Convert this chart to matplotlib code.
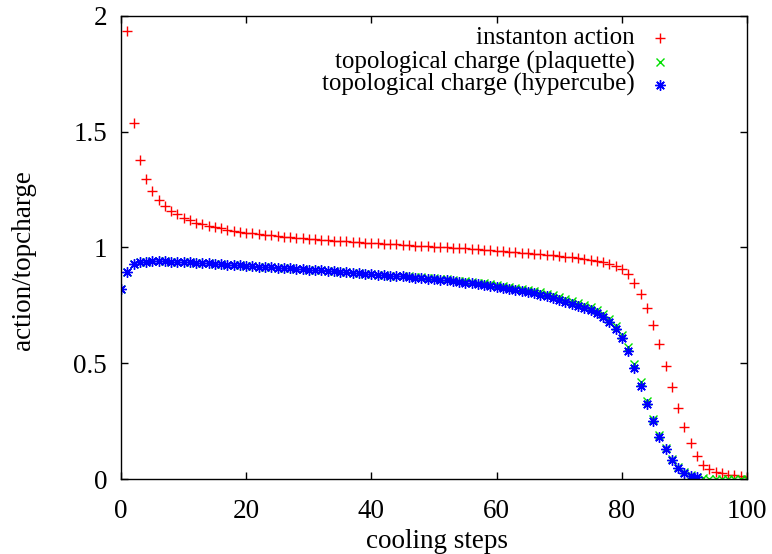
import numpy as np
import matplotlib
matplotlib.use("Agg")
from matplotlib import pyplot as plt

# cooling steps and measured values
steps = list(range(0, 101))

instanton_action = [
    np.nan, 1.935, 1.538, 1.378, 1.296, 1.243, 1.205, 1.179, 1.159, 1.143,
    1.129, 1.117, 1.107, 1.100, 1.093, 1.087, 1.082, 1.077, 1.072, 1.068,
    1.064, 1.061, 1.058, 1.055, 1.052, 1.050, 1.047, 1.045, 1.043, 1.040,
    1.038, 1.036, 1.034, 1.032, 1.030, 1.028, 1.026, 1.025, 1.023, 1.021,
    1.019, 1.018, 1.016, 1.015, 1.013, 1.011, 1.010, 1.008, 1.007, 1.005,
    1.004, 1.002, 1.001, 0.999, 0.997, 0.996, 0.994, 0.992, 0.990, 0.988,
    0.986, 0.984, 0.982, 0.980, 0.978, 0.976, 0.974, 0.972, 0.969, 0.967,
    0.964, 0.961, 0.958, 0.954, 0.950, 0.946, 0.942, 0.937, 0.929, 0.920,
    0.908, 0.884, 0.848, 0.801, 0.739, 0.666, 0.582, 0.490, 0.398, 0.309,
    0.226, 0.155, 0.100, 0.063, 0.043, 0.031, 0.026, 0.020, 0.017, 0.014,
    0.012,
]

topcharge_plaquette = [
    0.822, 0.896, 0.927, 0.936, 0.939, 0.940, 0.940, 0.940, 0.939, 0.938,
    0.937, 0.936, 0.934, 0.933, 0.931, 0.930, 0.928, 0.926, 0.925, 0.923,
    0.921, 0.920, 0.918, 0.917, 0.915, 0.913, 0.912, 0.910, 0.908, 0.907,
    0.905, 0.903, 0.901, 0.899, 0.897, 0.895, 0.893, 0.891, 0.889, 0.887,
    0.885, 0.883, 0.881, 0.879, 0.877, 0.875, 0.875, 0.873, 0.871, 0.869,
    0.867, 0.864, 0.862, 0.859, 0.857, 0.854, 0.851, 0.848, 0.845, 0.842,
    0.838, 0.834, 0.830, 0.826, 0.822, 0.817, 0.812, 0.807, 0.801, 0.794,
    0.787, 0.779, 0.771, 0.762, 0.753, 0.742, 0.729, 0.713, 0.693, 0.663,
    0.623, 0.570, 0.498, 0.418, 0.337, 0.262, 0.193, 0.135, 0.088, 0.054,
    0.031, 0.017, 0.009, 0.005, 0.003, 0.002, 0.001, 0.001, 0.001, 0.000,
    0.000,
]

topcharge_hypercube = [
    0.822, 0.896, 0.927, 0.936, 0.939, 0.940, 0.940, 0.940, 0.939, 0.938,
    0.937, 0.936, 0.934, 0.933, 0.931, 0.930, 0.928, 0.926, 0.925, 0.923,
    0.921, 0.920, 0.918, 0.917, 0.915, 0.913, 0.912, 0.910, 0.908, 0.907,
    0.905, 0.903, 0.901, 0.899, 0.897, 0.895, 0.893, 0.891, 0.889, 0.887,
    0.885, 0.883, 0.881, 0.879, 0.877, 0.875, 0.873, 0.870, 0.868, 0.866,
    0.863, 0.860, 0.858, 0.855, 0.852, 0.849, 0.846, 0.842, 0.839, 0.835,
    0.831, 0.827, 0.822, 0.818, 0.813, 0.808, 0.802, 0.796, 0.789, 0.781,
    0.773, 0.765, 0.757, 0.749, 0.740, 0.729, 0.716, 0.699, 0.678, 0.647,
    0.608, 0.553, 0.482, 0.403, 0.325, 0.252, 0.184, 0.129, 0.083, 0.050,
    0.029, 0.016, 0.009, np.nan, np.nan, np.nan, np.nan, np.nan, np.nan, np.nan,
    np.nan,
]

labels = ["instanton action", "topological charge (plaquette)",
          "topological charge (hypercube)"]

plt.rcParams['font.family'] = ['Liberation Serif', 'DejaVu Serif']
plt.rcParams['font.size'] = 19.5

fig = plt.figure(figsize=(7.72, 5.54), dpi=100)
ax = fig.add_axes([121 / 772, 1 - 479.3 / 554, 626 / 772, 463.6 / 554])

asterisk = (8, 2, 0)
styles = [
    dict(marker='+', color='#ff0000', ms=7, mew=1.0),
    dict(marker='x', color='#00e000', ms=5.5, mew=1.0),
    dict(marker=asterisk, color='#0000ff', ms=7.5, mew=1.0),
]
series = [instanton_action, topcharge_plaquette, topcharge_hypercube]

for ys, st in zip(series, styles):
    ax.plot(steps, ys, linestyle='none', **st)

ax.set_xlim(0, 100)
ax.set_ylim(0, 2)
ax.set_xticks([0, 20, 40, 60, 80, 100])
ax.set_yticks([0, 0.5, 1, 1.5, 2])
ax.set_yticklabels(['0', '0.5', '1', '1.5', '2'])
ax.tick_params(direction='in', top=True, right=True, length=5, width=1)
ax.tick_params(axis='x', pad=14)
ax.tick_params(axis='y', pad=10)
for sp in ax.spines.values():
    sp.set_linewidth(1)

# gnuplot style key: right aligned text, sample to the right
key_rows = [0.952, 0.900, 0.851]
for lab, st, yk in zip(labels, styles, key_rows):
    ax.text(0.821, yk, lab, transform=ax.transAxes, ha='right', va='center',
            fontsize=18)
    ax.plot([0.861], [yk], transform=ax.transAxes, linestyle='none',
            clip_on=False, **st)

fig.text(437 / 772, 1 - 541 / 554, 'cooling steps', ha='center', va='center')
fig.text(24 / 772, 1 - 260 / 554, 'action/topcharge', rotation=90,
         ha='center', va='center')

fig.savefig('out.png', dpi=100)
